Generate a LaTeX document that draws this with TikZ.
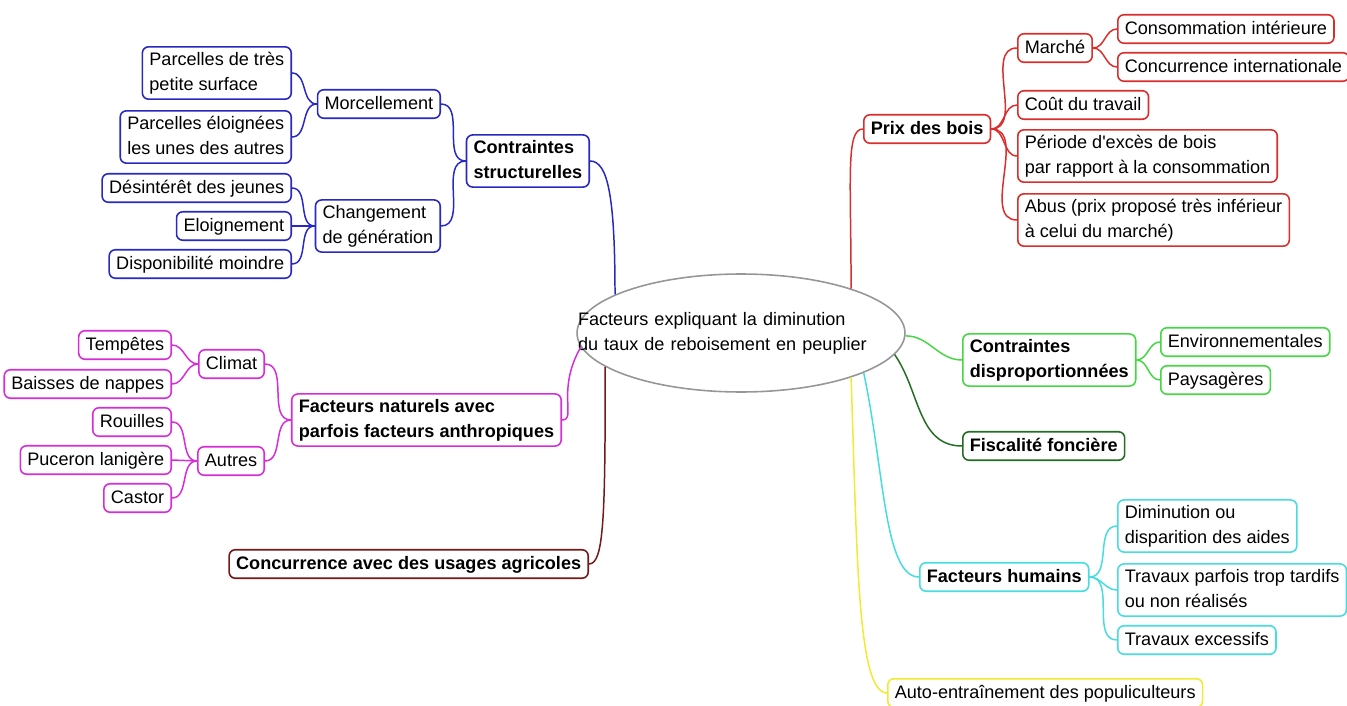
\documentclass[tikz,border=0pt]{standalone}
\usepackage{fontspec}
\setmainfont{Liberation Sans}
\usepackage{tikz}
\usetikzlibrary{shapes.geometric}
\definecolor{bleuBranche}{RGB}{40,40,195}
\definecolor{rougeBranche}{RGB}{220,45,45}
\definecolor{vertBranche}{RGB}{70,215,70}
\definecolor{vertFonce}{RGB}{35,110,35}
\definecolor{cyanBranche}{RGB}{70,220,225}
\definecolor{jauneBranche}{RGB}{240,235,50}
\definecolor{magentaBranche}{RGB}{215,45,215}
\definecolor{brunBranche}{RGB}{115,25,25}
\definecolor{grisEllipse}{RGB}{150,150,150}
\def\myPx{0.02cm}
\def\monStrut{\rule[-2.2pt]{0pt}{10.4pt}}

\begin{document}
\begin{tikzpicture}[x=\myPx,y=-\myPx]
      \tikzstyle{every node} = [font=\fontsize{10.3}{14.2}\selectfont]
      \tikzstyle{box} = [draw, rectangle, fill=white, rounded corners=3.5pt, line width=0.9pt, align=left, inner xsep=4pt, inner ysep=2.9pt, execute at begin node=\monStrut, execute at end node=\monStrut]
      \tikzstyle{gras} = [font=\fontsize{10.3}{14.2}\selectfont\bfseries]
      \tikzstyle{lien} = [line width=0.85pt]
      \tikzstyle{bleu} = [box, draw=bleuBranche]
      \tikzstyle{rouge} = [box, draw=rougeBranche]
      \tikzstyle{vert} = [box, draw=vertBranche]
      \tikzstyle{cyan} = [box, draw=cyanBranche]
      \tikzstyle{magenta} = [box, draw=magentaBranche]
      \useasboundingbox (0,0) rectangle (1347,706);
      \node[draw=grisEllipse, line width=0.9pt, ellipse, minimum width=6.56cm, minimum height=2.36cm, text width=6.52cm, align=left, inner xsep=-1cm, inner ysep=0pt](centre) at (741,333){Facteurs expliquant la diminution\\du taux de reboisement en peuplier};
      % Contraintes structurelles
      \node[bleu, gras, anchor=east](contraintesStruct) at (590,161){Contraintes\\structurelles};
      \node[bleu, anchor=east](morcellement) at (441,104){Morcellement};
      \node[bleu, anchor=east](changementGen) at (441,226){Changement\\de génération};
      \node[bleu, anchor=east](petiteSurface) at (292,73){Parcelles de très\\petite surface};
      \node[bleu, anchor=east](parcellesEloignees) at (292,137){Parcelles éloignées\\les unes des autres};
      \node[bleu, anchor=east](desinteret) at (292,188){Désintérêt des jeunes};
      \node[bleu, anchor=east](eloignement) at (292,226){Eloignement};
      \node[bleu, anchor=east](disponibilite) at (292,264){Disponibilité moindre};
      % Prix des bois
      \node[rouge, gras, anchor=west](prixBois) at (863,129){Prix des bois};
      \node[rouge, anchor=west](marche) at (1017,48){Marché};
      \node[rouge, anchor=west](consoInterieure) at (1117,29){Consommation intérieure};
      \node[rouge, anchor=west](concurrenceInter) at (1117,67){Concurrence internationale};
      \node[rouge, anchor=west](coutTravail) at (1017,105){Coût du travail};
      \node[rouge, anchor=west](excesBois) at (1017,156){Période d\textquotesingle excès de bois\\par rapport à la consommation};
      \node[rouge, anchor=west](abus) at (1017,220){Abus (prix proposé très inférieur\\à celui du marché)};
      % Contraintes disproportionnees, fiscalite
      \node[vert, gras, anchor=west](contraintesDisp) at (962,360){Contraintes\\disproportionnées};
      \node[vert, anchor=west](environnementales) at (1160,342){Environnementales};
      \node[vert, anchor=west](paysageres) at (1160,380){Paysagères};
      \node[box, gras, draw=vertFonce, anchor=west](fiscalite) at (962,446){Fiscalité foncière};
      % Facteurs humains
      \node[cyan, gras, anchor=west](facteursHumains) at (919,577){Facteurs humains};
      \node[cyan, anchor=west](diminutionAides) at (1117,526){Diminution ou\\disparition des aides};
      \node[cyan, anchor=west](travauxTardifs) at (1117,590){Travaux parfois trop tardifs\\ou non réalisés};
      \node[cyan, anchor=west](travauxExcessifs) at (1117,640){Travaux excessifs};
      \node[box, draw=jauneBranche, anchor=west](autoEntrainement) at (887,693){Auto-entraînement des populiculteurs};
      % Facteurs naturels
      \node[magenta, gras, anchor=east](facteursNaturels) at (562,420){Facteurs naturels avec\\parfois facteurs anthropiques};
      \node[magenta, anchor=east](climat) at (265,364){Climat};
      \node[magenta, anchor=east](autres) at (265,461){Autres};
      \node[magenta, anchor=east](tempetes) at (172,345){Tempêtes};
      \node[magenta, anchor=east](baissesNappes) at (172,384){Baisses de nappes};
      \node[magenta, anchor=east](rouilles) at (172,422){Rouilles};
      \node[magenta, anchor=east](puceron) at (172,460){Puceron lanigère};
      \node[magenta, anchor=east](castor) at (172,498){Castor};
      \node[box, gras, draw=brunBranche, anchor=east](concurrenceAgricole) at (589,564){Concurrence avec des usages agricoles};
      % Connections
      \draw[lien, bleuBranche]
      (centre.163) to[out=90, in=0, out distance=2cm, in distance=0.35cm] (contraintesStruct.east);
      \draw[lien, bleuBranche]
      (morcellement.east) to[out=0, in=180] (contraintesStruct.west);
      \draw[lien, bleuBranche]
      (changementGen.east) to[out=0, in=180] (contraintesStruct.west);
      \draw[lien, bleuBranche]
      (petiteSurface.east) to[out=0, in=180] (morcellement.west);
      \draw[lien, bleuBranche]
      (parcellesEloignees.east) to[out=0, in=180] (morcellement.west);
      \draw[lien, bleuBranche]
      (desinteret.east) to[out=0, in=180] (changementGen.west);
      \draw[lien, bleuBranche]
      (eloignement.east) -- (changementGen.west);
      \draw[lien, bleuBranche]
      (disponibilite.east) to[out=0, in=180] (changementGen.west);
      \draw[lien, rougeBranche]
      (centre.22) to[out=90, in=180, out distance=2.2cm, in distance=0.35cm] (prixBois.west);
      \draw[lien, rougeBranche]
      (prixBois.east) to[out=0, in=180] (marche.west);
      \draw[lien, rougeBranche]
      (prixBois.east) to[out=0, in=180] (coutTravail.west);
      \draw[lien, rougeBranche]
      (prixBois.east) to[out=0, in=180] (excesBois.west);
      \draw[lien, rougeBranche]
      (prixBois.east) to[out=0, in=180] (abus.west);
      \draw[lien, rougeBranche]
      (marche.east) to[out=0, in=180] (consoInterieure.west);
      \draw[lien, rougeBranche]
      (marche.east) to[out=0, in=180] (concurrenceInter.west);
      \draw[lien, vertBranche]
      (centre.-1) to[out=0, in=180] (contraintesDisp.west);
      \draw[lien, vertBranche]
      (contraintesDisp.east) to[out=0, in=180] (environnementales.west);
      \draw[lien, vertBranche]
      (contraintesDisp.east) to[out=0, in=180] (paysageres.west);
      \draw[lien, vertFonce]
      (centre.-8) to[out=-55, in=180] (fiscalite.west);
      \draw[lien, cyanBranche]
      (centre.-18) to[out=-78, in=180, out distance=2cm, in distance=0.7cm] (facteursHumains.west);
      \draw[lien, cyanBranche]
      (facteursHumains.east) to[out=0, in=180] (diminutionAides.west);
      \draw[lien, cyanBranche]
      (facteursHumains.east) to[out=0, in=180] (travauxTardifs.west);
      \draw[lien, cyanBranche]
      (facteursHumains.east) to[out=0, in=180] (travauxExcessifs.west);
      \draw[lien, jauneBranche]
      (centre.-22) to[out=-88, in=180, out distance=3.5cm, in distance=0.6cm] (autoEntrainement.west);
      \draw[lien, magentaBranche]
      (centre.185) to[out=240, in=0, out distance=1cm, in distance=0.3cm] (facteursNaturels.east);
      \draw[lien, magentaBranche]
      (climat.east) to[out=0, in=180] (facteursNaturels.west);
      \draw[lien, magentaBranche]
      (autres.east) to[out=0, in=180] (facteursNaturels.west);
      \draw[lien, magentaBranche]
      (tempetes.east) to[out=0, in=180] (climat.west);
      \draw[lien, magentaBranche]
      (baissesNappes.east) to[out=0, in=180] (climat.west);
      \draw[lien, magentaBranche]
      (rouilles.east) to[out=0, in=180] (autres.west);
      \draw[lien, magentaBranche]
      (puceron.east) -- (autres.west);
      \draw[lien, magentaBranche]
      (castor.east) to[out=0, in=180] (autres.west);
      \draw[lien, brunBranche]
      (centre.194) to[out=-90, in=0, out distance=3cm, in distance=0.3cm] (concurrenceAgricole.east);
    \end{tikzpicture}
\end{document}
